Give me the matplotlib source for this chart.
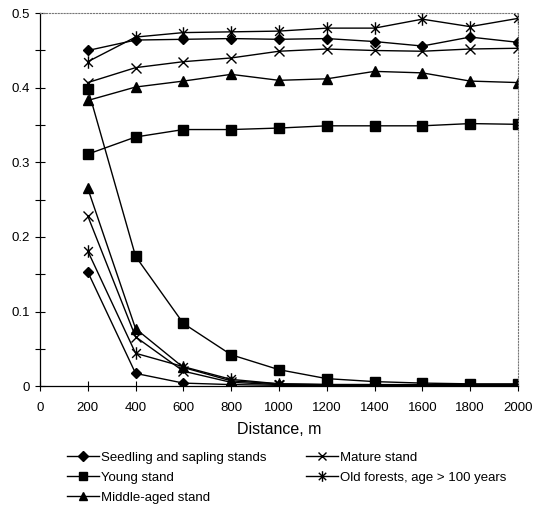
import numpy as np
import matplotlib
matplotlib.use("Agg")
import matplotlib.pyplot as plt
from matplotlib.path import Path
from matplotlib.ticker import MultipleLocator, FuncFormatter

distance = [200, 400, 600, 800, 1000, 1200, 1400, 1600, 1800, 2000]

labels = ["Seedling and sapling stands", "Young stand", "Middle-aged stand",
          "Mature stand", "Old forests, age > 100 years"]

# rising curves (one per stand type)
seedling_up = [0.450, 0.464, 0.465, 0.466, 0.465, 0.466, 0.462, 0.456, 0.468, 0.461]
young_up = [0.311, 0.334, 0.344, 0.344, 0.346, 0.349, 0.349, 0.349, 0.352, 0.351]
middle_up = [0.383, 0.401, 0.409, 0.418, 0.410, 0.412, 0.422, 0.420, 0.409, 0.407]
mature_up = [0.407, 0.427, 0.435, 0.440, 0.449, 0.452, 0.450, 0.449, 0.452, 0.453]
old_up = [0.435, 0.468, 0.474, 0.475, 0.476, 0.480, 0.480, 0.492, 0.482, 0.493]

# falling curves
seedling_down = [0.153, 0.017, 0.004, 0.002, 0.001, 0.001, 0.001, 0.001, 0.001, 0.001]
young_down = [0.399, 0.174, 0.084, 0.042, 0.022, 0.010, 0.006, 0.004, 0.003, 0.003]
middle_down = [0.265, 0.077, 0.025, 0.007, 0.003, 0.002, 0.002, 0.002, 0.002, 0.002]
mature_down = [0.228, 0.066, 0.020, 0.005, 0.002, 0.002, 0.001, 0.001, 0.001, 0.001]
old_down = [0.181, 0.044, 0.026, 0.009, 0.003, 0.002, 0.002, 0.001, 0.001, 0.001]

# excel-like asterisk marker: x plus vertical bar
star = Path([(0, -1), (0, 1), (-0.7, -0.7), (0.7, 0.7), (-0.7, 0.7), (0.7, -0.7)],
            [Path.MOVETO, Path.LINETO, Path.MOVETO, Path.LINETO, Path.MOVETO, Path.LINETO])

styles = [("D", 5.5), ("s", 7), ("^", 7), ("x", 7), (star, 9)]
ups = [seedling_up, young_up, middle_up, mature_up, old_up]
downs = [seedling_down, young_down, middle_down, mature_down, old_down]

plt.rcParams["font.family"] = ["Liberation Sans", "DejaVu Sans"]

fig = plt.figure(figsize=(5.43, 5.08), dpi=100)
ax = fig.add_axes([0.0737, 0.240, 0.880, 0.734])

for lab, (m, ms), up, down in zip(labels, styles, ups, downs):
    ax.plot(distance, up, color="k", lw=1.0, marker=m, ms=ms, mfc="k", mec="k",
            mew=1.0, label=lab)
    ax.plot(distance, down, color="k", lw=1.0, marker=m, ms=ms, mfc="k", mec="k",
            mew=1.0)

ax.set_xlim(0, 2000)
ax.set_ylim(0, 0.5)
ax.xaxis.set_major_locator(MultipleLocator(200))
ax.yaxis.set_major_locator(MultipleLocator(0.1))
ax.yaxis.set_minor_locator(MultipleLocator(0.05))
ax.yaxis.set_major_formatter(FuncFormatter(lambda v, p: "0" if v == 0 else f"{v:.1f}"))
ax.tick_params(axis="both", which="both", direction="inout", length=7, width=0.8,
               labelsize=9.5, top=False, right=False)
ax.tick_params(axis="x", pad=8)

for side in ["top", "right"]:
    ax.spines[side].set_linestyle(":")
    ax.spines[side].set_color("#777777")
for side in ["left", "bottom"]:
    ax.spines[side].set_linewidth(0.9)

ax.set_xlabel("Distance, m", fontsize=11.5, labelpad=6)

fig.legend(loc="upper left", bbox_to_anchor=(0.114, 0.122), ncol=2, frameon=False,
           fontsize=9.5, handlelength=2.4, handletextpad=0.2, columnspacing=2.95,
           labelspacing=0.6, borderaxespad=0, markerscale=0.85)

fig.savefig("out.png", dpi=100)
